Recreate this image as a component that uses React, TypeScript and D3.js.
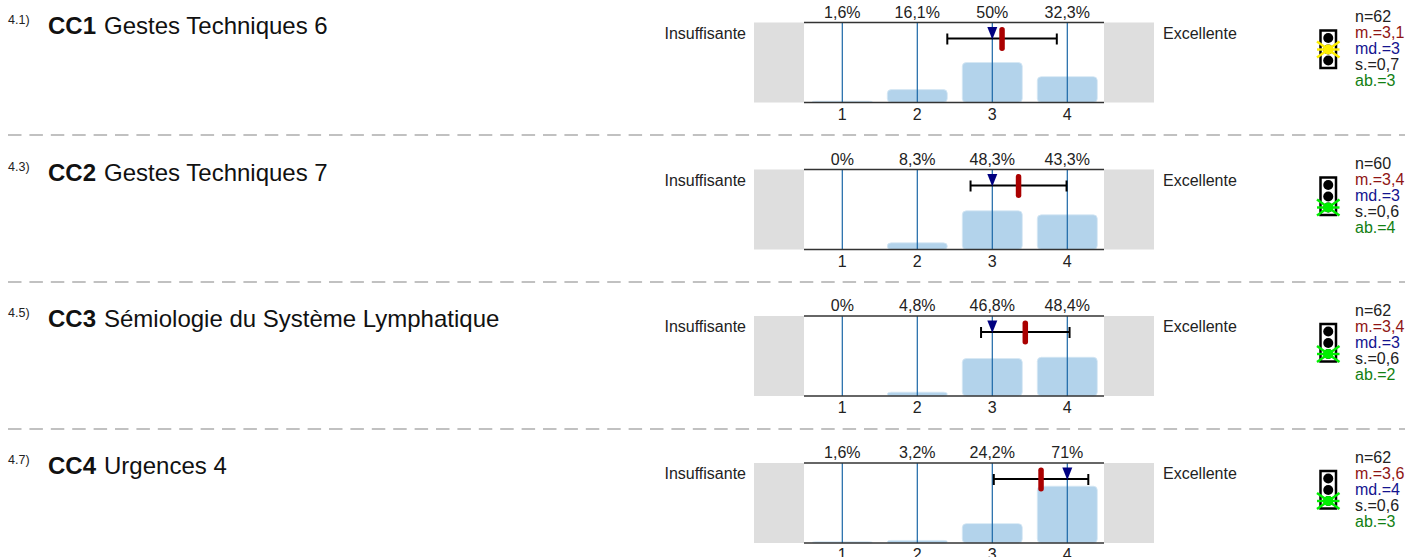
import React from "react";
import * as d3 from "d3";

const W = 1405, H = 557;
const numbers = ["4.1)", "4.3)", "4.5)", "4.7)"];
const codes = ["CC1", "CC2", "CC3", "CC4"];
const titles = ["Gestes Techniques 6", "Gestes Techniques 7", "Sémiologie du Système Lymphatique", "Urgences 4"];
const categories = [1, 2, 3, 4];
const pctLabels = [
  ["1,6%", "16,1%", "50%", "32,3%"],
  ["0%", "8,3%", "48,3%", "43,3%"],
  ["0%", "4,8%", "46,8%", "48,4%"],
  ["1,6%", "3,2%", "24,2%", "71%"],
];
const pctValues = [
  [1.6, 16.1, 50, 32.3],
  [0, 8.3, 48.3, 43.3],
  [0, 4.8, 46.8, 48.4],
  [1.6, 3.2, 24.2, 71],
];
const means = [3.13, 3.35, 3.44, 3.65];
const medians = [3, 3, 3, 4];
const sds = [0.73, 0.64, 0.59, 0.63];
const nLabels = ["n=62", "n=60", "n=62", "n=62"];
const mLabels = ["m.=3,1", "m.=3,4", "m.=3,4", "m.=3,6"];
const mdLabels = ["md.=3", "md.=3", "md.=3", "md.=4"];
const sLabels = ["s.=0,7", "s.=0,6", "s.=0,6", "s.=0,6"];
const abLabels = ["ab.=3", "ab.=4", "ab.=2", "ab.=3"];
const lights = [1, 2, 2, 2];
const panelTops = [22.5, 169.5, 316, 463];
const separators = [135, 282, 429];

const FONT = "'Liberation Sans', Arial, sans-serif";
const x = d3.scaleLinear().domain([0.5, 4.5]).range([804.8, 1104.8]);
const y = d3.scaleLinear().domain([0, 100]).range([80, 0]);

export default function App() {
  return (
    <svg width={W} height={H} style={{ position: "absolute", left: 0, top: 0, background: "#fff" }} fontFamily={FONT}>
      {separators.map((s) => (
        <line key={s} x1={8} x2={W} y1={s} y2={s} stroke="#adadad" strokeWidth={1.5} strokeDasharray="13.5 7.9" />
      ))}
      {panelTops.map((top, i) => {
        const tx = 1320.5, ty = top + 8;
        const lightY = [7.5, 19, 30];
        const cy = ty + lightY[lights[i]];
        const crossColor = lights[i] === 1 ? "#ffee00" : "#00ee00";
        const statRows: [string, string][] = [
          [nLabels[i], "#222"], [mLabels[i], "#8f1414"], [mdLabels[i], "#14148f"], [sLabels[i], "#222"], [abLabels[i], "#128012"],
        ];
        return (
          <g key={i}>
            <text x={8} y={top + 1} fontSize={12.5} fill="#222">{numbers[i]}</text>
            <text x={48} y={top + 11} fontSize={24} fill="#111">
              <tspan fontWeight="bold">{codes[i]}</tspan>
              <tspan dx={8}>{titles[i]}</tspan>
            </text>
            <rect x={754} y={top} width={50} height={80} fill="#dedede" />
            <rect x={1104} y={top} width={50} height={80} fill="#dedede" />
            <text x={746} y={top + 16} fontSize={16} textAnchor="end" fill="#222">Insuffisante</text>
            <text x={1163} y={top + 16} fontSize={16} fill="#222">Excellente</text>
            {categories.map((c, j) => {
              const h = 80 - y(pctValues[i][j]);
              return h > 0 ? (
                <rect key={c} x={x(c) - 30} y={top + y(pctValues[i][j])} width={60} height={h} rx={4}
                  fill="#b3d3eb" stroke="#d6e7f4" strokeWidth={0.8} />
              ) : null;
            })}
            {categories.map((c) => (
              <line key={c} x1={x(c)} x2={x(c)} y1={top} y2={top + 80} stroke="#1a66a6" strokeWidth={1.2} />
            ))}
            <line x1={804} x2={1104} y1={top} y2={top} stroke="#333" strokeWidth={1.6} />
            <line x1={804} x2={1104} y1={top + 80} y2={top + 80} stroke="#333" strokeWidth={1.6} />
            {categories.map((c, j) => (
              <text key={c} x={x(c)} y={top - 5} fontSize={16} textAnchor="middle" fill="#222">{pctLabels[i][j]}</text>
            ))}
            {categories.map((c) => (
              <text key={c} x={x(c)} y={top + 97} fontSize={16} textAnchor="middle" fill="#222">{c}</text>
            ))}
            <g stroke="#000" strokeWidth={2}>
              <line x1={x(means[i] - sds[i])} x2={x(means[i] + sds[i])} y1={top + 16} y2={top + 16} />
              <line x1={x(means[i] - sds[i])} x2={x(means[i] - sds[i])} y1={top + 11} y2={top + 22} />
              <line x1={x(means[i] + sds[i])} x2={x(means[i] + sds[i])} y1={top + 11} y2={top + 22} />
            </g>
            <path d={`M${x(medians[i]) - 5},${top + 4.5}H${x(medians[i]) + 5}L${x(medians[i])},${top + 17}Z`} fill="#000080" />
            <rect x={x(means[i]) - 2.75} y={top + 4.5} width={5.5} height={24} rx={2.7} fill="#aa0000" />
            <rect x={tx} y={ty} width={15.5} height={37.5} fill="#fff" stroke="#000" strokeWidth={2.5} />
            {lightY.map((ly) => <circle key={ly} cx={tx + 7.75} cy={ty + ly} r={5} fill="#000" />)}
            <g stroke={crossColor} strokeWidth={2.4}>
              <line x1={tx - 3.5} x2={tx + 19} y1={cy - 8} y2={cy + 8} />
              <line x1={tx - 3.5} x2={tx + 19} y1={cy + 8} y2={cy - 8} />
              <line x1={tx - 3.5} x2={tx + 19} y1={cy} y2={cy} />
            </g>
            <circle cx={tx + 7.75} cy={cy} r={5} fill={crossColor} />
            {statRows.map(([t, col], k) => (
              <text key={k} x={1355} y={top - 0.5 + k * 16} fontSize={16} fill={col}>{t}</text>
            ))}
          </g>
        );
      })}
    </svg>
  );
}
